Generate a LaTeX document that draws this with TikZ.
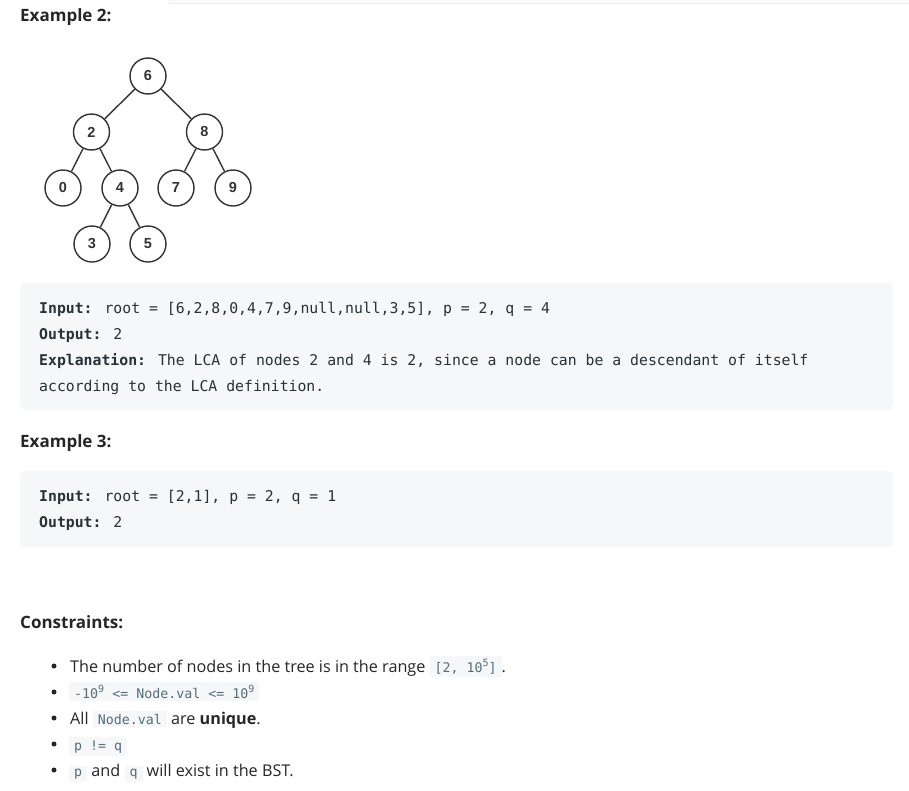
\documentclass[tikz,border=0pt]{standalone}
\usepackage{fontspec}
\setmainfont{Open Sans}
\newfontfamily\codefont{DejaVu Sans Mono}
\newfontfamily\treefont{Liberation Sans}
\usetikzlibrary{positioning}
\definecolor{codebg}{HTML}{F5F7F8}
\definecolor{codefg}{HTML}{263238}
\definecolor{inlfg}{HTML}{546E7A}
\definecolor{textfg}{HTML}{262626}
\definecolor{treeln}{HTML}{333333}
\definecolor{topbox}{HTML}{EEEEEE}
\newcommand{\inl}[1]{{\setlength{\fboxsep}{3pt}\colorbox{codebg}{\kern2pt\codefont\fontsize{13.3}{13.3}\selectfont\color{inlfg}#1\kern2pt}}}
\newcommand{\sups}[1]{\raisebox{0.45em}{\fontsize{10}{10}\selectfont#1}}
\tikzset{
	vertex/.style={circle,draw=treeln,line width=1.4pt,minimum size=36pt,inner sep=0pt,fill=white,
		font=\treefont\bfseries\fontsize{14.5}{14.5}\selectfont,text=treeln},
	heading/.style={anchor=base west,inner sep=0pt,text=textfg,font=\bfseries\fontsize{17}{17}\selectfont},
	codeline/.style={anchor=base west,inner sep=0pt,text=codefg,font=\codefont\fontsize{14.8}{14.8}\selectfont},
	itemline/.style={anchor=base west,inner sep=0pt,text=textfg,font=\fontsize{16.2}{16.2}\selectfont},
	bulletdot/.style={circle,fill=textfg,inner sep=0pt,minimum size=5pt}
}
\begin{document}
\begin{tikzpicture}
		[x=1pt,y=-1pt,level distance=56pt,
		level 1/.style={sibling distance=113pt},
		level 2/.style={sibling distance=57pt},
		level 3/.style={sibling distance=56pt},
		edge from parent/.style={draw=treeln,line width=1.4pt}]
		\useasboundingbox (0,0) rectangle (909,790);
		\filldraw[draw=topbox,fill=codebg!50] (169,-5) rectangle (915,3.5);
		\node[heading] (ex2) at (20,21) {Example 2:};
		\node[vertex] (n6) at (148,76) {6}
		child{
			node[vertex] (n2) {2}
			child{
				node[vertex] (n0) {0}
			}
			child{
				node[vertex] (n4) {4}
				child{
					node[vertex] (n3) {3}
				}
				child{
					node[vertex] (n5) {5}
				}
			}
		}
		child{
			node[vertex] (n8) {8}
			child{
				node[vertex] (n7) {7}
			}
			child{
				node[vertex] (n9) {9}
			}
		};
		\fill[codebg,rounded corners=5pt] (20,283) rectangle (893,410);
		\node[codeline] (in2) at (39,313) {\textbf{Input:} root = [6,2,8,0,4,7,9,null,null,3,5], p = 2, q = 4};
		\node[codeline] (out2) at (39,339) {\textbf{Output:} 2};
		\node[codeline] (expl) at (39,365) {\textbf{Explanation:} The LCA of nodes 2 and 4 is 2, since a node can be a descendant of itself};
		\node[codeline] (expl2) at (39,391) {according to the LCA definition.};
		\node[heading] (ex3) at (20,447) {Example 3:};
		\fill[codebg,rounded corners=5pt] (20,471) rectangle (893,547);
		\node[codeline] (in3) at (39,501) {\textbf{Input:} root = [2,1], p = 2, q = 1};
		\node[codeline] (out3) at (39,527) {\textbf{Output:} 2};
		\node[heading] (cons) at (20,628) {Constraints:};
		\foreach \y in {672,698,724,750,776}
			\node[bulletdot] at (54,\y-6) {};
		\node[itemline] (c1) at (70,672) {The number of nodes in the tree is in the range \inl{[2, 10\sups{5}]}.};
		\node[itemline] (c2) at (69,698) {\inl{-10\sups{9} <= Node.val <= 10\sups{9}}};
		\node[itemline] (c3) at (70,724) {All \inl{Node.val} are \textbf{unique}.};
		\node[itemline] (c4) at (69,750) {\inl{p != q}};
		\node[itemline] (c5) at (69,776) {\inl{p} and \inl{q} will exist in the BST.};
	\end{tikzpicture}
\end{document}
